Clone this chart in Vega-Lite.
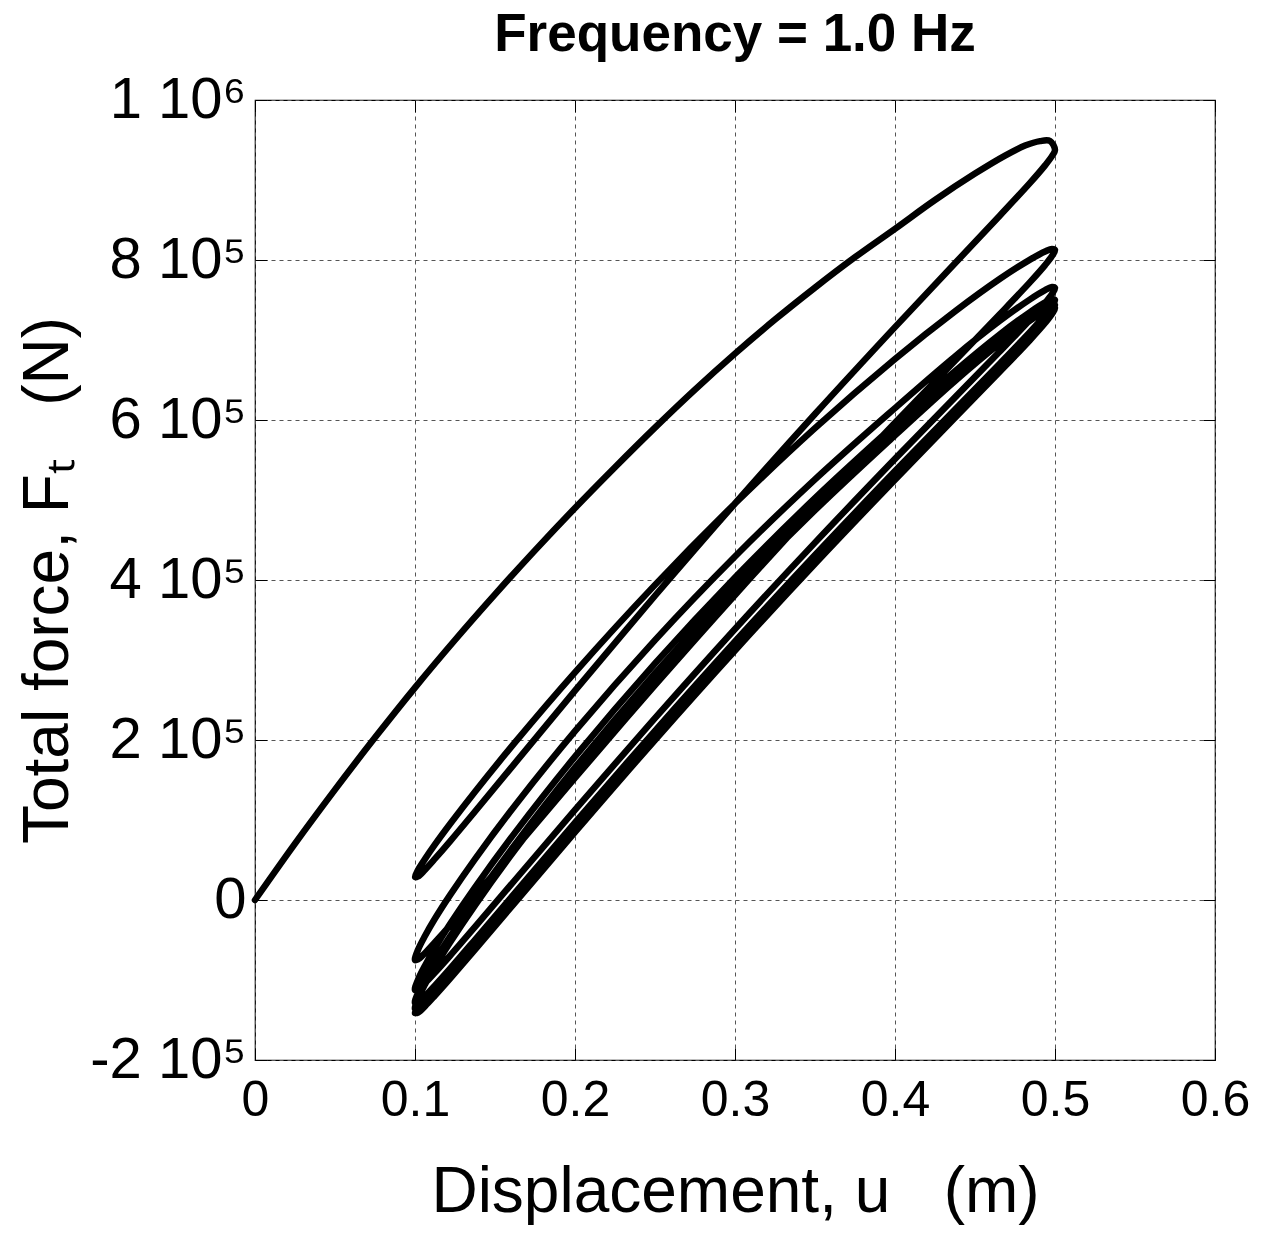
{
"$schema": "https://vega.github.io/schema/vega-lite/v6.json",
"width": 960, "height": 960,
"autosize": {"type": "none"},
"padding": {"left": 255, "top": 100, "right": 57, "bottom": 173},
"background": "white",
"title": {"text": "Frequency = 1.0 Hz", "font": "Liberation Sans", "fontSize": 53, "fontWeight": "bold", "color": "black", "anchor": "middle", "offset": 9},
"config": {
  "view": {"stroke": "black", "strokeWidth": 1.2},
  "axis": {"labelFont": "Liberation Sans", "titleFont": "Liberation Sans", "labelColor": "black", "titleColor": "black", "tickColor": "black", "titleFontWeight": "normal", "gridColor": "#555555", "gridDash": [4, 4], "gridWidth": 1, "domain": false, "labelOverlap": false, "labelFlush": false}
},
"data": {"values": [
{"i":0,"u":0,"F":0},{"i":1,"u":0.025,"F":70500},{"i":2,"u":0.05,"F":138000},{"i":3,"u":0.075,"F":203000},{"i":4,"u":0.1,"F":265500},{"i":5,"u":0.125,"F":325000},{"i":6,"u":0.15,"F":382000},{"i":7,"u":0.175,"F":437000},{"i":8,"u":0.2,"F":490000},{"i":9,"u":0.225,"F":541000},{"i":10,"u":0.25,"F":590500},{"i":11,"u":0.275,"F":638000},{"i":12,"u":0.3,"F":683000},{"i":13,"u":0.325,"F":725500},{"i":14,"u":0.35,"F":765500},{"i":15,"u":0.375,"F":803500},{"i":16,"u":0.4,"F":839000},{"i":17,"u":0.425,"F":875000},{"i":18,"u":0.45,"F":908000},{"i":19,"u":0.4688,"F":930500},{"i":20,"u":0.4813,"F":943000},{"i":21,"u":0.4906,"F":948600},{"i":22,"u":0.4969,"F":948750},{"i":23,"u":0.5,"F":937500},
{"i":24,"u":0.4981,"F":929800},{"i":25,"u":0.4938,"F":918300},{"i":26,"u":0.4844,"F":896400},{"i":27,"u":0.4656,"F":855700},{"i":28,"u":0.4375,"F":795900},{"i":29,"u":0.4,"F":716100},{"i":30,"u":0.35,"F":607500},{"i":31,"u":0.3,"F":495600},{"i":32,"u":0.25,"F":380300},{"i":33,"u":0.2,"F":261700},{"i":34,"u":0.1625,"F":171100},{"i":35,"u":0.1375,"F":110600},{"i":36,"u":0.1219,"F":73300},{"i":37,"u":0.1125,"F":51600},{"i":38,"u":0.1063,"F":37900},{"i":39,"u":0.1019,"F":29500},{"i":40,"u":0.1,"F":28750},
{"i":41,"u":0.1019,"F":37500},{"i":42,"u":0.1063,"F":51400},{"i":43,"u":0.1125,"F":69400},{"i":44,"u":0.1219,"F":94900},{"i":45,"u":0.1375,"F":135300},{"i":46,"u":0.1625,"F":197000},{"i":47,"u":0.2,"F":284600},{"i":48,"u":0.25,"F":393900},{"i":49,"u":0.3,"F":495600},{"i":50,"u":0.35,"F":589900},{"i":51,"u":0.4,"F":676400},{"i":52,"u":0.4375,"F":735800},{"i":53,"u":0.4656,"F":776500},{"i":54,"u":0.4844,"F":800500},{"i":55,"u":0.4938,"F":810700},{"i":56,"u":0.4981,"F":813900},{"i":57,"u":0.5,"F":812500},
{"i":58,"u":0.4981,"F":804900},{"i":59,"u":0.4938,"F":793600},{"i":60,"u":0.4844,"F":772300},{"i":61,"u":0.4656,"F":732500},{"i":62,"u":0.4375,"F":674200},{"i":63,"u":0.4,"F":596400},{"i":64,"u":0.35,"F":490500},{"i":65,"u":0.3,"F":381300},{"i":66,"u":0.25,"F":268600},{"i":67,"u":0.2,"F":152600},{"i":68,"u":0.1625,"F":64100},{"i":69,"u":0.1375,"F":4800},{"i":70,"u":0.1219,"F":-31600},{"i":71,"u":0.1125,"F":-52800},{"i":72,"u":0.1063,"F":-66200},{"i":73,"u":0.1019,"F":-74300},{"i":74,"u":0.1,"F":-75000},
{"i":75,"u":0.1019,"F":-62200},{"i":76,"u":0.1063,"F":-44700},{"i":77,"u":0.1125,"F":-23200},{"i":78,"u":0.1219,"F":6100},{"i":79,"u":0.1375,"F":51200},{"i":80,"u":0.1625,"F":118200},{"i":81,"u":0.2,"F":211100},{"i":82,"u":0.25,"F":324900},{"i":83,"u":0.3,"F":429400},{"i":84,"u":0.35,"F":525800},{"i":85,"u":0.4,"F":614900},{"i":86,"u":0.4375,"F":679500},{"i":87,"u":0.4656,"F":724100},{"i":88,"u":0.4844,"F":750800},{"i":89,"u":0.4938,"F":762300},{"i":90,"u":0.4981,"F":766200},{"i":91,"u":0.5,"F":765000},
{"i":92,"u":0.4981,"F":757400},{"i":93,"u":0.4938,"F":746200},{"i":94,"u":0.4844,"F":725200},{"i":95,"u":0.4656,"F":685800},{"i":96,"u":0.4375,"F":628300},{"i":97,"u":0.4,"F":551400},{"i":98,"u":0.35,"F":446700},{"i":99,"u":0.3,"F":338800},{"i":100,"u":0.25,"F":227300},{"i":101,"u":0.2,"F":112600},{"i":102,"u":0.1625,"F":25000},{"i":103,"u":0.1375,"F":-33600},{"i":104,"u":0.1219,"F":-69700},{"i":105,"u":0.1125,"F":-90700},{"i":106,"u":0.1063,"F":-103900},{"i":107,"u":0.1019,"F":-111900},{"i":108,"u":0.1,"F":-112500},
{"i":109,"u":0.1019,"F":-99500},{"i":110,"u":0.1063,"F":-81800},{"i":111,"u":0.1125,"F":-60000},{"i":112,"u":0.1219,"F":-30100},{"i":113,"u":0.1375,"F":15800},{"i":114,"u":0.1625,"F":84200},{"i":115,"u":0.2,"F":179200},{"i":116,"u":0.25,"F":295800},{"i":117,"u":0.3,"F":403200},{"i":118,"u":0.35,"F":502300},{"i":119,"u":0.4,"F":594300},{"i":120,"u":0.4375,"F":661000},{"i":121,"u":0.4656,"F":707200},{"i":122,"u":0.4844,"F":734900},{"i":123,"u":0.4938,"F":747000},{"i":124,"u":0.4981,"F":751000},{"i":125,"u":0.5,"F":750000},
{"i":126,"u":0.4981,"F":742400},{"i":127,"u":0.4938,"F":731200},{"i":128,"u":0.4844,"F":710100},{"i":129,"u":0.4656,"F":670700},{"i":130,"u":0.4375,"F":613100},{"i":131,"u":0.4,"F":536100},{"i":132,"u":0.35,"F":431200},{"i":133,"u":0.3,"F":323100},{"i":134,"u":0.25,"F":211500},{"i":135,"u":0.2,"F":96700},{"i":136,"u":0.1625,"F":8900},{"i":137,"u":0.1375,"F":-49700},{"i":138,"u":0.1219,"F":-85900},{"i":139,"u":0.1125,"F":-106900},{"i":140,"u":0.1063,"F":-120100},{"i":141,"u":0.1019,"F":-128100},{"i":142,"u":0.1,"F":-128750},
{"i":143,"u":0.1019,"F":-115700},{"i":144,"u":0.1063,"F":-97900},{"i":145,"u":0.1125,"F":-75900},{"i":146,"u":0.1219,"F":-45800},{"i":147,"u":0.1375,"F":500},{"i":148,"u":0.1625,"F":69500},{"i":149,"u":0.2,"F":165500},{"i":150,"u":0.25,"F":283300},{"i":151,"u":0.3,"F":391900},{"i":152,"u":0.35,"F":492300},{"i":153,"u":0.4,"F":585500},{"i":154,"u":0.4375,"F":653200},{"i":155,"u":0.4656,"F":700100},{"i":156,"u":0.4844,"F":728300},{"i":157,"u":0.4938,"F":740600},{"i":158,"u":0.4981,"F":744700},{"i":159,"u":0.5,"F":743750},
{"i":160,"u":0.4981,"F":736100},{"i":161,"u":0.4938,"F":725000},{"i":162,"u":0.4844,"F":703800},{"i":163,"u":0.4656,"F":664400},{"i":164,"u":0.4375,"F":606600},{"i":165,"u":0.4,"F":529500},{"i":166,"u":0.35,"F":424500},{"i":167,"u":0.3,"F":316300},{"i":168,"u":0.25,"F":204500},{"i":169,"u":0.2,"F":89500},{"i":170,"u":0.1625,"F":1600},{"i":171,"u":0.1375,"F":-57100},{"i":172,"u":0.1219,"F":-93300},{"i":173,"u":0.1125,"F":-114300},{"i":174,"u":0.1063,"F":-127600},{"i":175,"u":0.1019,"F":-135600},{"i":176,"u":0.1,"F":-136250},
{"i":177,"u":0.1019,"F":-123200},{"i":178,"u":0.1063,"F":-105300},{"i":179,"u":0.1125,"F":-83300},{"i":180,"u":0.1219,"F":-53100},{"i":181,"u":0.1375,"F":-6600},{"i":182,"u":0.1625,"F":62600},{"i":183,"u":0.2,"F":158900},{"i":184,"u":0.25,"F":277200},{"i":185,"u":0.3,"F":386300},{"i":186,"u":0.35,"F":487200},{"i":187,"u":0.4,"F":580800},{"i":188,"u":0.4375,"F":648800},{"i":189,"u":0.4656,"F":696000},{"i":190,"u":0.4844,"F":724400},{"i":191,"u":0.4938,"F":736800},{"i":192,"u":0.4981,"F":741000},{"i":193,"u":0.5,"F":740000},
{"i":194,"u":0.4981,"F":732400},{"i":195,"u":0.4938,"F":721200},{"i":196,"u":0.4844,"F":700000},{"i":197,"u":0.4656,"F":660500},{"i":198,"u":0.4375,"F":602700},{"i":199,"u":0.4,"F":525400},{"i":200,"u":0.35,"F":420300},{"i":201,"u":0.3,"F":311900},{"i":202,"u":0.25,"F":200000},{"i":203,"u":0.2,"F":84800},{"i":204,"u":0.1625,"F":-3200},{"i":205,"u":0.1375,"F":-62000},{"i":206,"u":0.1219,"F":-98200},{"i":207,"u":0.1125,"F":-119300},{"i":208,"u":0.1063,"F":-132600},{"i":209,"u":0.1019,"F":-140600},{"i":210,"u":0.1,"F":-141250}
]},
"layer": [
  {
    "mark": {"type": "line", "color": "black", "strokeWidth": 6.5, "strokeJoin": "round", "strokeCap": "round", "interpolate": "catmull-rom"},
    "encoding": {
      "x": {"field": "u", "type": "quantitative", "scale": {"domain": [0, 0.6], "nice": false, "zero": false},
        "axis": {"orient": "bottom", "values": [0, 0.1, 0.2, 0.3, 0.4, 0.5, 0.6], "labelExpr": "datum.value == 0 ? '0' : format(datum.value, '.1f')", "labelFontSize": 50, "labelPadding": 27, "tickSize": -12, "grid": true, "title": "Displacement, u\u00a0\u00a0\u00a0(m)", "titleFontSize": 64, "titlePadding": 35}},
      "y": {"field": "F", "type": "quantitative", "scale": {"domain": [-200000, 1000000], "nice": false, "zero": false},
        "axis": {"orient": "left", "values": [-200000, 0, 200000, 400000, 600000, 800000, 1000000], "labelExpr": "datum.value == 0 ? '0' : datum.value == 1000000 ? '1 10⁶' : (datum.value / 100000) + ' 10⁵'", "labelFontSize": 58, "labelPadding": 21, "tickSize": -12, "grid": true, "title": "Total force, F\u209c\u00a0\u00a0\u00a0(N)", "titleFontSize": 64, "titlePadding": 9}},
      "order": {"field": "i", "type": "quantitative"}
    }
  },
  {
    "mark": {"type": "line", "opacity": 0},
    "encoding": {
      "x": {"field": "u", "type": "quantitative", "axis": {"orient": "top", "values": [0, 0.1, 0.2, 0.3, 0.4, 0.5, 0.6], "labels": false, "tickSize": -12, "grid": false, "title": null}},
      "y": {"field": "F", "type": "quantitative", "axis": {"orient": "right", "values": [-200000, 0, 200000, 400000, 600000, 800000, 1000000], "labels": false, "tickSize": -12, "grid": false, "title": null}},
      "order": {"field": "i", "type": "quantitative"}
    }
  }
],
"resolve": {"axis": {"x": "independent", "y": "independent"}}
}
